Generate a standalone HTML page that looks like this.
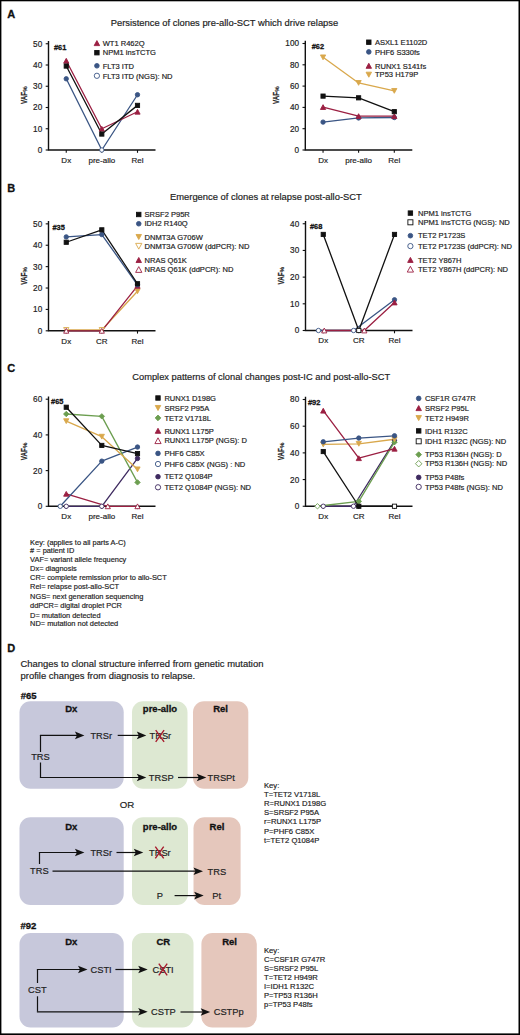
<!DOCTYPE html><html><head><meta charset="utf-8"><style>html,body{margin:0;padding:0;background:#fff;}svg{display:block;}</style></head><body>
<svg width="520" height="1035" viewBox="0 0 520 1035" font-family='"Liberation Sans", sans-serif'>
<rect x="0" y="0" width="520" height="1035" fill="#fff"/>
<text x="7.3" y="17.5" font-size="11" text-anchor="start" font-weight="bold" fill="#111" stroke="#111" stroke-width="0.3" >A</text>
<text x="7.3" y="192" font-size="11" text-anchor="start" font-weight="bold" fill="#111" stroke="#111" stroke-width="0.3" >B</text>
<text x="7.3" y="372" font-size="11" text-anchor="start" font-weight="bold" fill="#111" stroke="#111" stroke-width="0.3" >C</text>
<text x="7.3" y="652" font-size="11" text-anchor="start" font-weight="bold" fill="#111" stroke="#111" stroke-width="0.3" >D</text>
<text x="110.7" y="25.5" font-size="9.4" text-anchor="start" font-weight="normal" fill="#222" stroke="#222" stroke-width="0.18" >Persistence of clones pre-allo-SCT which drive relapse</text>
<text x="170" y="199.8" font-size="9.4" text-anchor="start" font-weight="normal" fill="#222" stroke="#222" stroke-width="0.18" >Emergence of clones at relapse post-allo-SCT</text>
<text x="132.3" y="380" font-size="9.3" text-anchor="start" font-weight="normal" fill="#222" stroke="#222" stroke-width="0.18" >Complex patterns of clonal changes post-IC and post-allo-SCT</text>
<path d="M48.5,40.95 V150 H155.5" fill="none" stroke="#111" stroke-width="1.4"/>
<line x1="45.7" y1="150" x2="48.5" y2="150" stroke="#111" stroke-width="1.1"/>
<text x="42.2" y="152.95" font-size="8.2" text-anchor="end" font-weight="normal" fill="#222" stroke="#222" stroke-width="0.18" >0</text>
<line x1="45.7" y1="128.75" x2="48.5" y2="128.75" stroke="#111" stroke-width="1.1"/>
<text x="42.2" y="131.7" font-size="8.2" text-anchor="end" font-weight="normal" fill="#222" stroke="#222" stroke-width="0.18" >10</text>
<line x1="45.7" y1="107.5" x2="48.5" y2="107.5" stroke="#111" stroke-width="1.1"/>
<text x="42.2" y="110.45" font-size="8.2" text-anchor="end" font-weight="normal" fill="#222" stroke="#222" stroke-width="0.18" >20</text>
<line x1="45.7" y1="86.25" x2="48.5" y2="86.25" stroke="#111" stroke-width="1.1"/>
<text x="42.2" y="89.2" font-size="8.2" text-anchor="end" font-weight="normal" fill="#222" stroke="#222" stroke-width="0.18" >30</text>
<line x1="45.7" y1="65" x2="48.5" y2="65" stroke="#111" stroke-width="1.1"/>
<text x="42.2" y="67.95" font-size="8.2" text-anchor="end" font-weight="normal" fill="#222" stroke="#222" stroke-width="0.18" >40</text>
<line x1="45.7" y1="43.75" x2="48.5" y2="43.75" stroke="#111" stroke-width="1.1"/>
<text x="42.2" y="46.7" font-size="8.2" text-anchor="end" font-weight="normal" fill="#222" stroke="#222" stroke-width="0.18" >50</text>
<line x1="66.25" y1="150" x2="66.25" y2="152.8" stroke="#111" stroke-width="1.1"/>
<text x="66.25" y="162.9" font-size="8" text-anchor="middle" font-weight="normal" fill="#222" stroke="#222" stroke-width="0.18" >Dx</text>
<line x1="101.8" y1="150" x2="101.8" y2="152.8" stroke="#111" stroke-width="1.1"/>
<text x="101.8" y="162.9" font-size="8" text-anchor="middle" font-weight="normal" fill="#222" stroke="#222" stroke-width="0.18" >pre-allo</text>
<line x1="137.5" y1="150" x2="137.5" y2="152.8" stroke="#111" stroke-width="1.1"/>
<text x="137.5" y="162.9" font-size="8" text-anchor="middle" font-weight="normal" fill="#222" stroke="#222" stroke-width="0.18" >Rel</text>
<text x="0" y="0" font-size="9.6" font-weight="bold" fill="#222" stroke="#222" stroke-width="0.25" transform="translate(27,104) rotate(-90)" textLength="12.1" lengthAdjust="spacingAndGlyphs">VAF</text>
<text x="12.3" y="0" font-size="6" font-weight="bold" fill="#222" stroke="#222" stroke-width="0.15" transform="translate(27,104) rotate(-90)">%</text>
<text x="54" y="49.75" font-size="7.4" text-anchor="start" font-weight="bold" fill="#111" stroke="#111" stroke-width="0.3" >#61</text>
<polyline points="66.25,78.81 101.8,150 137.5,94.75" fill="none" stroke="#3a5584" stroke-width="1.3" stroke-linejoin="round"/>
<polyline points="66.25,60.75 101.8,128.75 137.5,111.75" fill="none" stroke="#9b1f42" stroke-width="1.3" stroke-linejoin="round"/>
<polyline points="66.25,66.06 101.8,134.06 137.5,105.38" fill="none" stroke="#111" stroke-width="1.3" stroke-linejoin="round"/>
<circle cx="66.25" cy="78.81" r="2.2" fill="#3a5584" stroke="#3a5584" stroke-width="0.9"/>
<circle cx="101.8" cy="150" r="2.2" fill="#fff" stroke="#3a5584" stroke-width="0.9"/>
<circle cx="137.5" cy="94.75" r="2.2" fill="#3a5584" stroke="#3a5584" stroke-width="0.9"/>
<polygon points="66.25,58.35 68.85,63.15 63.65,63.15" fill="#9b1f42" stroke="#9b1f42" stroke-width="0.9" stroke-linejoin="miter"/>
<polygon points="101.8,126.35 104.4,131.15 99.2,131.15" fill="#9b1f42" stroke="#9b1f42" stroke-width="0.9" stroke-linejoin="miter"/>
<polygon points="137.5,109.35 140.1,114.15 134.9,114.15" fill="#9b1f42" stroke="#9b1f42" stroke-width="0.9" stroke-linejoin="miter"/>
<rect x="64.15" y="63.96" width="4.2" height="4.2" fill="#111" stroke="#111" stroke-width="0.9"/>
<rect x="99.7" y="131.96" width="4.2" height="4.2" fill="#111" stroke="#111" stroke-width="0.9"/>
<rect x="135.4" y="103.28" width="4.2" height="4.2" fill="#111" stroke="#111" stroke-width="0.9"/>
<polygon points="96.9,40.58 99.63,45.62 94.17,45.62" fill="#9b1f42" stroke="#9b1f42" stroke-width="0.9" stroke-linejoin="miter"/>
<text x="102.7" y="45.8" font-size="7.55" text-anchor="start" font-weight="normal" fill="#222" stroke="#222" stroke-width="0.18" >WT1 R462Q</text>
<rect x="94.7" y="50.5" width="4.41" height="4.41" fill="#111" stroke="#111" stroke-width="0.9"/>
<text x="102.7" y="55.4" font-size="7.55" text-anchor="start" font-weight="normal" fill="#222" stroke="#222" stroke-width="0.18" >NPM1 insTCTG</text>
<circle cx="96.9" cy="65.8" r="2.31" fill="#3a5584" stroke="#3a5584" stroke-width="0.9"/>
<text x="102.7" y="68.5" font-size="7.55" text-anchor="start" font-weight="normal" fill="#222" stroke="#222" stroke-width="0.18" >FLT3 ITD</text>
<circle cx="96.9" cy="75.8" r="2.64" fill="#fff" stroke="#3a5584" stroke-width="0.9"/>
<text x="102.7" y="78.5" font-size="7.55" text-anchor="start" font-weight="normal" fill="#222" stroke="#222" stroke-width="0.18" >FLT3 ITD (NGS): ND</text>
<path d="M305.3,40.7 V150 H412.3" fill="none" stroke="#111" stroke-width="1.4"/>
<line x1="302.5" y1="150" x2="305.3" y2="150" stroke="#111" stroke-width="1.1"/>
<text x="299" y="152.95" font-size="8.2" text-anchor="end" font-weight="normal" fill="#222" stroke="#222" stroke-width="0.18" >0</text>
<line x1="302.5" y1="128.7" x2="305.3" y2="128.7" stroke="#111" stroke-width="1.1"/>
<text x="299" y="131.65" font-size="8.2" text-anchor="end" font-weight="normal" fill="#222" stroke="#222" stroke-width="0.18" >20</text>
<line x1="302.5" y1="107.4" x2="305.3" y2="107.4" stroke="#111" stroke-width="1.1"/>
<text x="299" y="110.35" font-size="8.2" text-anchor="end" font-weight="normal" fill="#222" stroke="#222" stroke-width="0.18" >40</text>
<line x1="302.5" y1="86.1" x2="305.3" y2="86.1" stroke="#111" stroke-width="1.1"/>
<text x="299" y="89.05" font-size="8.2" text-anchor="end" font-weight="normal" fill="#222" stroke="#222" stroke-width="0.18" >60</text>
<line x1="302.5" y1="64.8" x2="305.3" y2="64.8" stroke="#111" stroke-width="1.1"/>
<text x="299" y="67.75" font-size="8.2" text-anchor="end" font-weight="normal" fill="#222" stroke="#222" stroke-width="0.18" >80</text>
<line x1="302.5" y1="43.5" x2="305.3" y2="43.5" stroke="#111" stroke-width="1.1"/>
<text x="299" y="46.45" font-size="8.2" text-anchor="end" font-weight="normal" fill="#222" stroke="#222" stroke-width="0.18" >100</text>
<line x1="323.05" y1="150" x2="323.05" y2="152.8" stroke="#111" stroke-width="1.1"/>
<text x="323.05" y="162.9" font-size="8" text-anchor="middle" font-weight="normal" fill="#222" stroke="#222" stroke-width="0.18" >Dx</text>
<line x1="358.6" y1="150" x2="358.6" y2="152.8" stroke="#111" stroke-width="1.1"/>
<text x="358.6" y="162.9" font-size="8" text-anchor="middle" font-weight="normal" fill="#222" stroke="#222" stroke-width="0.18" >pre-allo</text>
<line x1="394.3" y1="150" x2="394.3" y2="152.8" stroke="#111" stroke-width="1.1"/>
<text x="394.3" y="162.9" font-size="8" text-anchor="middle" font-weight="normal" fill="#222" stroke="#222" stroke-width="0.18" >Rel</text>
<text x="0" y="0" font-size="9.6" font-weight="bold" fill="#222" stroke="#222" stroke-width="0.25" transform="translate(279.4,104) rotate(-90)" textLength="12.1" lengthAdjust="spacingAndGlyphs">VAF</text>
<text x="12.3" y="0" font-size="6" font-weight="bold" fill="#222" stroke="#222" stroke-width="0.15" transform="translate(279.4,104) rotate(-90)">%</text>
<text x="311.7" y="49.1" font-size="7.4" text-anchor="start" font-weight="bold" fill="#111" stroke="#111" stroke-width="0.3" >#62</text>
<polyline points="323.05,57.34 358.6,82.91 394.3,90.89" fill="none" stroke="#d9a84c" stroke-width="1.3" stroke-linejoin="round"/>
<polyline points="323.05,122.1 358.6,117.94 394.3,117.52" fill="none" stroke="#3a5584" stroke-width="1.3" stroke-linejoin="round"/>
<polyline points="323.05,107.08 358.6,116.13 394.3,116.13" fill="none" stroke="#9b1f42" stroke-width="1.3" stroke-linejoin="round"/>
<polyline points="323.05,96.11 358.6,97.81 394.3,111.66" fill="none" stroke="#111" stroke-width="1.3" stroke-linejoin="round"/>
<polygon points="323.05,59.74 325.65,54.95 320.45,54.95" fill="#d9a84c" stroke="#d9a84c" stroke-width="0.9"/>
<polygon points="358.6,85.31 361.2,80.5 356,80.5" fill="#d9a84c" stroke="#d9a84c" stroke-width="0.9"/>
<polygon points="394.3,93.29 396.9,88.49 391.7,88.49" fill="#d9a84c" stroke="#d9a84c" stroke-width="0.9"/>
<circle cx="323.05" cy="122.1" r="2.2" fill="#3a5584" stroke="#3a5584" stroke-width="0.9"/>
<circle cx="358.6" cy="117.94" r="2.2" fill="#3a5584" stroke="#3a5584" stroke-width="0.9"/>
<circle cx="394.3" cy="117.52" r="2.2" fill="#3a5584" stroke="#3a5584" stroke-width="0.9"/>
<polygon points="323.05,104.68 325.65,109.48 320.45,109.48" fill="#9b1f42" stroke="#9b1f42" stroke-width="0.9" stroke-linejoin="miter"/>
<polygon points="358.6,113.73 361.2,118.53 356,118.53" fill="#9b1f42" stroke="#9b1f42" stroke-width="0.9" stroke-linejoin="miter"/>
<polygon points="394.3,113.73 396.9,118.53 391.7,118.53" fill="#9b1f42" stroke="#9b1f42" stroke-width="0.9" stroke-linejoin="miter"/>
<rect x="320.95" y="94.01" width="4.2" height="4.2" fill="#111" stroke="#111" stroke-width="0.9"/>
<rect x="356.5" y="95.72" width="4.2" height="4.2" fill="#111" stroke="#111" stroke-width="0.9"/>
<rect x="392.2" y="109.56" width="4.2" height="4.2" fill="#111" stroke="#111" stroke-width="0.9"/>
<rect x="366.6" y="40" width="4.41" height="4.41" fill="#111" stroke="#111" stroke-width="0.9"/>
<text x="375" y="44.9" font-size="7.55" text-anchor="start" font-weight="normal" fill="#222" stroke="#222" stroke-width="0.18" >ASXL1 E1102D</text>
<circle cx="368.8" cy="51.9" r="2.31" fill="#3a5584" stroke="#3a5584" stroke-width="0.9"/>
<text x="375" y="54.6" font-size="7.55" text-anchor="start" font-weight="normal" fill="#222" stroke="#222" stroke-width="0.18" >PHF6 S330fs</text>
<polygon points="368.8,63.28 371.53,68.32 366.07,68.32" fill="#9b1f42" stroke="#9b1f42" stroke-width="0.9" stroke-linejoin="miter"/>
<text x="375" y="68.5" font-size="7.55" text-anchor="start" font-weight="normal" fill="#222" stroke="#222" stroke-width="0.18" >RUNX1 S141fs</text>
<polygon points="368.8,77.22 371.53,72.18 366.07,72.18" fill="#d9a84c" stroke="#d9a84c" stroke-width="0.9"/>
<text x="375" y="77.4" font-size="7.55" text-anchor="start" font-weight="normal" fill="#222" stroke="#222" stroke-width="0.18" >TP53 H179P</text>
<path d="M48.5,221.05 V330.8 H155.5" fill="none" stroke="#111" stroke-width="1.4"/>
<line x1="45.7" y1="330.8" x2="48.5" y2="330.8" stroke="#111" stroke-width="1.1"/>
<text x="42.2" y="333.75" font-size="8.2" text-anchor="end" font-weight="normal" fill="#222" stroke="#222" stroke-width="0.18" >0</text>
<line x1="45.7" y1="309.41" x2="48.5" y2="309.41" stroke="#111" stroke-width="1.1"/>
<text x="42.2" y="312.36" font-size="8.2" text-anchor="end" font-weight="normal" fill="#222" stroke="#222" stroke-width="0.18" >10</text>
<line x1="45.7" y1="288.02" x2="48.5" y2="288.02" stroke="#111" stroke-width="1.1"/>
<text x="42.2" y="290.97" font-size="8.2" text-anchor="end" font-weight="normal" fill="#222" stroke="#222" stroke-width="0.18" >20</text>
<line x1="45.7" y1="266.63" x2="48.5" y2="266.63" stroke="#111" stroke-width="1.1"/>
<text x="42.2" y="269.58" font-size="8.2" text-anchor="end" font-weight="normal" fill="#222" stroke="#222" stroke-width="0.18" >30</text>
<line x1="45.7" y1="245.24" x2="48.5" y2="245.24" stroke="#111" stroke-width="1.1"/>
<text x="42.2" y="248.19" font-size="8.2" text-anchor="end" font-weight="normal" fill="#222" stroke="#222" stroke-width="0.18" >40</text>
<line x1="45.7" y1="223.85" x2="48.5" y2="223.85" stroke="#111" stroke-width="1.1"/>
<text x="42.2" y="226.8" font-size="8.2" text-anchor="end" font-weight="normal" fill="#222" stroke="#222" stroke-width="0.18" >50</text>
<line x1="66.25" y1="330.8" x2="66.25" y2="333.6" stroke="#111" stroke-width="1.1"/>
<text x="66.25" y="343.7" font-size="8" text-anchor="middle" font-weight="normal" fill="#222" stroke="#222" stroke-width="0.18" >Dx</text>
<line x1="101.8" y1="330.8" x2="101.8" y2="333.6" stroke="#111" stroke-width="1.1"/>
<text x="101.8" y="343.7" font-size="8" text-anchor="middle" font-weight="normal" fill="#222" stroke="#222" stroke-width="0.18" >CR</text>
<line x1="137.5" y1="330.8" x2="137.5" y2="333.6" stroke="#111" stroke-width="1.1"/>
<text x="137.5" y="343.7" font-size="8" text-anchor="middle" font-weight="normal" fill="#222" stroke="#222" stroke-width="0.18" >Rel</text>
<text x="0" y="0" font-size="9.6" font-weight="bold" fill="#222" stroke="#222" stroke-width="0.25" transform="translate(26.8,284.8) rotate(-90)" textLength="12.1" lengthAdjust="spacingAndGlyphs">VAF</text>
<text x="12.3" y="0" font-size="6" font-weight="bold" fill="#222" stroke="#222" stroke-width="0.15" transform="translate(26.8,284.8) rotate(-90)">%</text>
<text x="52.5" y="230" font-size="7.4" text-anchor="start" font-weight="bold" fill="#111" stroke="#111" stroke-width="0.3" >#35</text>
<polyline points="66.25,329.94 101.8,329.94 137.5,291.23" fill="none" stroke="#d9a84c" stroke-width="1.3" stroke-linejoin="round"/>
<polyline points="66.25,330.8 101.8,330.8 137.5,285.88" fill="none" stroke="#9b1f42" stroke-width="1.3" stroke-linejoin="round"/>
<polyline points="66.25,236.9 101.8,234.55 137.5,284.81" fill="none" stroke="#3a5584" stroke-width="1.3" stroke-linejoin="round"/>
<polyline points="66.25,242.25 101.8,229.84 137.5,283.74" fill="none" stroke="#111" stroke-width="1.3" stroke-linejoin="round"/>
<polygon points="66.25,332.34 68.85,327.54 63.65,327.54" fill="#fff" stroke="#d9a84c" stroke-width="0.9"/>
<polygon points="101.8,332.34 104.4,327.54 99.2,327.54" fill="#fff" stroke="#d9a84c" stroke-width="0.9"/>
<polygon points="137.5,293.63 140.1,288.83 134.9,288.83" fill="#d9a84c" stroke="#d9a84c" stroke-width="0.9"/>
<polygon points="66.25,328.4 68.85,333.2 63.65,333.2" fill="#fff" stroke="#9b1f42" stroke-width="0.9" stroke-linejoin="miter"/>
<polygon points="101.8,328.4 104.4,333.2 99.2,333.2" fill="#fff" stroke="#9b1f42" stroke-width="0.9" stroke-linejoin="miter"/>
<polygon points="137.5,283.48 140.1,288.28 134.9,288.28" fill="#9b1f42" stroke="#9b1f42" stroke-width="0.9" stroke-linejoin="miter"/>
<circle cx="66.25" cy="236.9" r="2.2" fill="#3a5584" stroke="#3a5584" stroke-width="0.9"/>
<circle cx="101.8" cy="234.55" r="2.2" fill="#3a5584" stroke="#3a5584" stroke-width="0.9"/>
<circle cx="137.5" cy="284.81" r="2.2" fill="#3a5584" stroke="#3a5584" stroke-width="0.9"/>
<rect x="64.15" y="240.15" width="4.2" height="4.2" fill="#111" stroke="#111" stroke-width="0.9"/>
<rect x="99.7" y="227.74" width="4.2" height="4.2" fill="#111" stroke="#111" stroke-width="0.9"/>
<rect x="135.4" y="281.64" width="4.2" height="4.2" fill="#111" stroke="#111" stroke-width="0.9"/>
<rect x="136.54" y="212.29" width="4.41" height="4.41" fill="#111" stroke="#111" stroke-width="0.9"/>
<text x="144.5" y="217.2" font-size="7.55" text-anchor="start" font-weight="normal" fill="#222" stroke="#222" stroke-width="0.18" >SRSF2 P95R</text>
<circle cx="138.75" cy="223.75" r="2.31" fill="#3a5584" stroke="#3a5584" stroke-width="0.9"/>
<text x="144.5" y="226.45" font-size="7.55" text-anchor="start" font-weight="normal" fill="#222" stroke="#222" stroke-width="0.18" >IDH2 R140Q</text>
<polygon points="138.75,239.52 141.48,234.48 136.02,234.48" fill="#d9a84c" stroke="#d9a84c" stroke-width="0.9"/>
<text x="144.5" y="239.7" font-size="7.55" text-anchor="start" font-weight="normal" fill="#222" stroke="#222" stroke-width="0.18" >DNMT3A G706W</text>
<polygon points="138.75,249.13 141.87,243.37 135.63,243.37" fill="#fff" stroke="#d9a84c" stroke-width="0.9"/>
<text x="144.5" y="248.95" font-size="7.55" text-anchor="start" font-weight="normal" fill="#222" stroke="#222" stroke-width="0.18" >DNMT3A G706W (ddPCR): ND</text>
<polygon points="138.75,257.48 141.48,262.52 136.02,262.52" fill="#9b1f42" stroke="#9b1f42" stroke-width="0.9" stroke-linejoin="miter"/>
<text x="144.5" y="262.7" font-size="7.55" text-anchor="start" font-weight="normal" fill="#222" stroke="#222" stroke-width="0.18" >NRAS Q61K</text>
<polygon points="138.75,266.62 141.87,272.38 135.63,272.38" fill="#fff" stroke="#9b1f42" stroke-width="0.9" stroke-linejoin="miter"/>
<text x="144.5" y="272.2" font-size="7.55" text-anchor="start" font-weight="normal" fill="#222" stroke="#222" stroke-width="0.18" >NRAS Q61K (ddPCR): ND</text>
<path d="M305.5,220.95 V330.5 H412.5" fill="none" stroke="#111" stroke-width="1.4"/>
<line x1="302.7" y1="330.5" x2="305.5" y2="330.5" stroke="#111" stroke-width="1.1"/>
<text x="299.2" y="333.45" font-size="8.2" text-anchor="end" font-weight="normal" fill="#222" stroke="#222" stroke-width="0.18" >0</text>
<line x1="302.7" y1="303.81" x2="305.5" y2="303.81" stroke="#111" stroke-width="1.1"/>
<text x="299.2" y="306.76" font-size="8.2" text-anchor="end" font-weight="normal" fill="#222" stroke="#222" stroke-width="0.18" >10</text>
<line x1="302.7" y1="277.12" x2="305.5" y2="277.12" stroke="#111" stroke-width="1.1"/>
<text x="299.2" y="280.07" font-size="8.2" text-anchor="end" font-weight="normal" fill="#222" stroke="#222" stroke-width="0.18" >20</text>
<line x1="302.7" y1="250.44" x2="305.5" y2="250.44" stroke="#111" stroke-width="1.1"/>
<text x="299.2" y="253.39" font-size="8.2" text-anchor="end" font-weight="normal" fill="#222" stroke="#222" stroke-width="0.18" >30</text>
<line x1="302.7" y1="223.75" x2="305.5" y2="223.75" stroke="#111" stroke-width="1.1"/>
<text x="299.2" y="226.7" font-size="8.2" text-anchor="end" font-weight="normal" fill="#222" stroke="#222" stroke-width="0.18" >40</text>
<line x1="323.25" y1="330.5" x2="323.25" y2="333.3" stroke="#111" stroke-width="1.1"/>
<text x="323.25" y="343.4" font-size="8" text-anchor="middle" font-weight="normal" fill="#222" stroke="#222" stroke-width="0.18" >Dx</text>
<line x1="358.8" y1="330.5" x2="358.8" y2="333.3" stroke="#111" stroke-width="1.1"/>
<text x="358.8" y="343.4" font-size="8" text-anchor="middle" font-weight="normal" fill="#222" stroke="#222" stroke-width="0.18" >CR</text>
<line x1="394.5" y1="330.5" x2="394.5" y2="333.3" stroke="#111" stroke-width="1.1"/>
<text x="394.5" y="343.4" font-size="8" text-anchor="middle" font-weight="normal" fill="#222" stroke="#222" stroke-width="0.18" >Rel</text>
<text x="0" y="0" font-size="9.6" font-weight="bold" fill="#222" stroke="#222" stroke-width="0.25" transform="translate(284.2,284.5) rotate(-90)" textLength="12.1" lengthAdjust="spacingAndGlyphs">VAF</text>
<text x="12.3" y="0" font-size="6" font-weight="bold" fill="#222" stroke="#222" stroke-width="0.15" transform="translate(284.2,284.5) rotate(-90)">%</text>
<text x="310" y="229" font-size="7.4" text-anchor="start" font-weight="bold" fill="#111" stroke="#111" stroke-width="0.3" >#68</text>
<polyline points="318.45,330.5 353.6,330.5 394.5,299.81" fill="none" stroke="#3a5584" stroke-width="1.3" stroke-linejoin="round"/>
<polyline points="324.25,330.5 364.3,330.5 394.5,302.48" fill="none" stroke="#9b1f42" stroke-width="1.3" stroke-linejoin="round"/>
<polyline points="323.25,234.43 358.8,330.5 394.5,234.43" fill="none" stroke="#111" stroke-width="1.3" stroke-linejoin="round"/>
<circle cx="318.45" cy="330.5" r="2.2" fill="#fff" stroke="#3a5584" stroke-width="0.9"/>
<circle cx="353.6" cy="330.5" r="2.2" fill="#fff" stroke="#3a5584" stroke-width="0.9"/>
<circle cx="394.5" cy="299.81" r="2.2" fill="#3a5584" stroke="#3a5584" stroke-width="0.9"/>
<polygon points="324.25,328.1 326.85,332.9 321.65,332.9" fill="#fff" stroke="#9b1f42" stroke-width="0.9" stroke-linejoin="miter"/>
<polygon points="364.3,328.1 366.9,332.9 361.7,332.9" fill="#fff" stroke="#9b1f42" stroke-width="0.9" stroke-linejoin="miter"/>
<polygon points="394.5,300.08 397.1,304.88 391.9,304.88" fill="#9b1f42" stroke="#9b1f42" stroke-width="0.9" stroke-linejoin="miter"/>
<rect x="321.15" y="232.33" width="4.2" height="4.2" fill="#111" stroke="#111" stroke-width="0.9"/>
<rect x="356.7" y="328.4" width="4.2" height="4.2" fill="#fff" stroke="#111" stroke-width="0.9"/>
<rect x="392.4" y="232.33" width="4.2" height="4.2" fill="#111" stroke="#111" stroke-width="0.9"/>
<rect x="408.19" y="210.89" width="4.41" height="4.41" fill="#111" stroke="#111" stroke-width="0.9"/>
<text x="418" y="215.8" font-size="7.55" text-anchor="start" font-weight="normal" fill="#222" stroke="#222" stroke-width="0.18" >NPM1 insTCTG</text>
<rect x="407.88" y="219.78" width="5.04" height="5.04" fill="#fff" stroke="#111" stroke-width="0.9"/>
<text x="418" y="225" font-size="7.55" text-anchor="start" font-weight="normal" fill="#222" stroke="#222" stroke-width="0.18" >NPM1 insTCTG (NGS): ND</text>
<circle cx="410.4" cy="235.7" r="2.31" fill="#3a5584" stroke="#3a5584" stroke-width="0.9"/>
<text x="418" y="238.4" font-size="7.55" text-anchor="start" font-weight="normal" fill="#222" stroke="#222" stroke-width="0.18" >TET2 P1723S</text>
<circle cx="410.4" cy="246.1" r="2.64" fill="#fff" stroke="#3a5584" stroke-width="0.9"/>
<text x="418" y="248.8" font-size="7.55" text-anchor="start" font-weight="normal" fill="#222" stroke="#222" stroke-width="0.18" >TET2 P1723S (ddPCR): ND</text>
<polygon points="410.4,257.38 413.13,262.42 407.67,262.42" fill="#9b1f42" stroke="#9b1f42" stroke-width="0.9" stroke-linejoin="miter"/>
<text x="418" y="262.6" font-size="7.55" text-anchor="start" font-weight="normal" fill="#222" stroke="#222" stroke-width="0.18" >TET2 Y867H</text>
<polygon points="410.4,266.32 413.52,272.08 407.28,272.08" fill="#fff" stroke="#9b1f42" stroke-width="0.9" stroke-linejoin="miter"/>
<text x="418" y="271.9" font-size="7.55" text-anchor="start" font-weight="normal" fill="#222" stroke="#222" stroke-width="0.18" >TET2 Y867H (ddPCR): ND</text>
<path d="M48.5,396.4 V506.3 H155.5" fill="none" stroke="#111" stroke-width="1.4"/>
<line x1="45.7" y1="506.3" x2="48.5" y2="506.3" stroke="#111" stroke-width="1.1"/>
<text x="42.2" y="509.25" font-size="8.2" text-anchor="end" font-weight="normal" fill="#222" stroke="#222" stroke-width="0.18" >0</text>
<line x1="45.7" y1="470.6" x2="48.5" y2="470.6" stroke="#111" stroke-width="1.1"/>
<text x="42.2" y="473.55" font-size="8.2" text-anchor="end" font-weight="normal" fill="#222" stroke="#222" stroke-width="0.18" >20</text>
<line x1="45.7" y1="434.9" x2="48.5" y2="434.9" stroke="#111" stroke-width="1.1"/>
<text x="42.2" y="437.85" font-size="8.2" text-anchor="end" font-weight="normal" fill="#222" stroke="#222" stroke-width="0.18" >40</text>
<line x1="45.7" y1="399.2" x2="48.5" y2="399.2" stroke="#111" stroke-width="1.1"/>
<text x="42.2" y="402.15" font-size="8.2" text-anchor="end" font-weight="normal" fill="#222" stroke="#222" stroke-width="0.18" >60</text>
<line x1="66.25" y1="506.3" x2="66.25" y2="509.1" stroke="#111" stroke-width="1.1"/>
<text x="66.25" y="519.2" font-size="8" text-anchor="middle" font-weight="normal" fill="#222" stroke="#222" stroke-width="0.18" >Dx</text>
<line x1="101.8" y1="506.3" x2="101.8" y2="509.1" stroke="#111" stroke-width="1.1"/>
<text x="101.8" y="519.2" font-size="8" text-anchor="middle" font-weight="normal" fill="#222" stroke="#222" stroke-width="0.18" >pre-allo</text>
<line x1="137.5" y1="506.3" x2="137.5" y2="509.1" stroke="#111" stroke-width="1.1"/>
<text x="137.5" y="519.2" font-size="8" text-anchor="middle" font-weight="normal" fill="#222" stroke="#222" stroke-width="0.18" >Rel</text>
<text x="0" y="0" font-size="9.6" font-weight="bold" fill="#222" stroke="#222" stroke-width="0.25" transform="translate(27,460.3) rotate(-90)" textLength="12.1" lengthAdjust="spacingAndGlyphs">VAF</text>
<text x="12.3" y="0" font-size="6" font-weight="bold" fill="#222" stroke="#222" stroke-width="0.15" transform="translate(27,460.3) rotate(-90)">%</text>
<text x="51.1" y="404.2" font-size="7.4" text-anchor="start" font-weight="bold" fill="#111" stroke="#111" stroke-width="0.3" >#65</text>
<polyline points="66.25,493.81 107.8,506.3 137.5,506.3" fill="none" stroke="#9b1f42" stroke-width="1.3" stroke-linejoin="round"/>
<polyline points="66.25,506.3 101.8,506.3 137.5,458.46" fill="none" stroke="#3e2a60" stroke-width="1.3" stroke-linejoin="round"/>
<polyline points="60.25,506.3 101.8,461.14 137.5,447.04" fill="none" stroke="#3a5584" stroke-width="1.3" stroke-linejoin="round"/>
<polyline points="66.25,414.02 101.8,416.34 137.5,482.38" fill="none" stroke="#6c9e50" stroke-width="1.3" stroke-linejoin="round"/>
<polyline points="66.25,421.16 101.8,436.69 137.5,469.35" fill="none" stroke="#d9a84c" stroke-width="1.3" stroke-linejoin="round"/>
<polyline points="66.25,407.23 101.8,445.43 137.5,453.64" fill="none" stroke="#111" stroke-width="1.3" stroke-linejoin="round"/>
<polygon points="66.25,491.41 68.85,496.2 63.65,496.2" fill="#9b1f42" stroke="#9b1f42" stroke-width="0.9" stroke-linejoin="miter"/>
<polygon points="107.8,503.9 110.4,508.7 105.2,508.7" fill="#fff" stroke="#9b1f42" stroke-width="0.9" stroke-linejoin="miter"/>
<polygon points="137.5,503.9 140.1,508.7 134.9,508.7" fill="#fff" stroke="#9b1f42" stroke-width="0.9" stroke-linejoin="miter"/>
<circle cx="66.25" cy="506.3" r="2.2" fill="#fff" stroke="#3e2a60" stroke-width="0.9"/>
<circle cx="101.8" cy="506.3" r="2.2" fill="#fff" stroke="#3e2a60" stroke-width="0.9"/>
<circle cx="137.5" cy="458.46" r="2.2" fill="#3e2a60" stroke="#3e2a60" stroke-width="0.9"/>
<circle cx="60.25" cy="506.3" r="2.2" fill="#fff" stroke="#3a5584" stroke-width="0.9"/>
<circle cx="101.8" cy="461.14" r="2.2" fill="#3a5584" stroke="#3a5584" stroke-width="0.9"/>
<circle cx="137.5" cy="447.04" r="2.2" fill="#3a5584" stroke="#3a5584" stroke-width="0.9"/>
<polygon points="66.25,411.32 68.95,414.02 66.25,416.72 63.55,414.02" fill="#6c9e50" stroke="#6c9e50" stroke-width="0.9"/>
<polygon points="101.8,413.64 104.5,416.34 101.8,419.04 99.1,416.34" fill="#6c9e50" stroke="#6c9e50" stroke-width="0.9"/>
<polygon points="137.5,479.68 140.2,482.38 137.5,485.08 134.8,482.38" fill="#6c9e50" stroke="#6c9e50" stroke-width="0.9"/>
<polygon points="66.25,423.56 68.85,418.76 63.65,418.76" fill="#d9a84c" stroke="#d9a84c" stroke-width="0.9"/>
<polygon points="101.8,439.08 104.4,434.29 99.2,434.29" fill="#d9a84c" stroke="#d9a84c" stroke-width="0.9"/>
<polygon points="137.5,471.75 140.1,466.95 134.9,466.95" fill="#d9a84c" stroke="#d9a84c" stroke-width="0.9"/>
<rect x="64.15" y="405.13" width="4.2" height="4.2" fill="#111" stroke="#111" stroke-width="0.9"/>
<rect x="99.7" y="443.33" width="4.2" height="4.2" fill="#111" stroke="#111" stroke-width="0.9"/>
<rect x="135.4" y="451.54" width="4.2" height="4.2" fill="#111" stroke="#111" stroke-width="0.9"/>
<rect x="155.79" y="395.8" width="4.41" height="4.41" fill="#111" stroke="#111" stroke-width="0.9"/>
<text x="164.4" y="400.7" font-size="7.55" text-anchor="start" font-weight="normal" fill="#222" stroke="#222" stroke-width="0.18" >RUNX1 D198G</text>
<polygon points="158,410.52 160.73,405.48 155.27,405.48" fill="#d9a84c" stroke="#d9a84c" stroke-width="0.9"/>
<text x="164.4" y="410.7" font-size="7.55" text-anchor="start" font-weight="normal" fill="#222" stroke="#222" stroke-width="0.18" >SRSF2 P95A</text>
<polygon points="158,415.06 160.84,417.9 158,420.73 155.16,417.9" fill="#6c9e50" stroke="#6c9e50" stroke-width="0.9"/>
<text x="164.4" y="420.6" font-size="7.55" text-anchor="start" font-weight="normal" fill="#222" stroke="#222" stroke-width="0.18" >TET2 V1718L</text>
<polygon points="158,428.28 160.73,433.32 155.27,433.32" fill="#9b1f42" stroke="#9b1f42" stroke-width="0.9" stroke-linejoin="miter"/>
<text x="164.4" y="433.5" font-size="7.55" text-anchor="start" font-weight="normal" fill="#222" stroke="#222" stroke-width="0.18" >RUNX1 L175P</text>
<polygon points="158,437.82 161.12,443.58 154.88,443.58" fill="#fff" stroke="#9b1f42" stroke-width="0.9" stroke-linejoin="miter"/>
<text x="164.4" y="443.4" font-size="7.55" text-anchor="start" font-weight="normal" fill="#222" stroke="#222" stroke-width="0.18" >RUNX1 L175P (NGS): D</text>
<circle cx="158" cy="453.4" r="2.31" fill="#3a5584" stroke="#3a5584" stroke-width="0.9"/>
<text x="164.4" y="456.1" font-size="7.55" text-anchor="start" font-weight="normal" fill="#222" stroke="#222" stroke-width="0.18" >PHF6 C85X</text>
<circle cx="158" cy="464" r="2.64" fill="#fff" stroke="#3a5584" stroke-width="0.9"/>
<text x="164.4" y="466.7" font-size="7.55" text-anchor="start" font-weight="normal" fill="#222" stroke="#222" stroke-width="0.18" >PHF6 C85X (NGS) : ND</text>
<circle cx="158" cy="476.7" r="2.31" fill="#3e2a60" stroke="#3e2a60" stroke-width="0.9"/>
<text x="164.4" y="479.4" font-size="7.55" text-anchor="start" font-weight="normal" fill="#222" stroke="#222" stroke-width="0.18" >TET2 Q1084P</text>
<circle cx="158" cy="487.3" r="2.64" fill="#fff" stroke="#3e2a60" stroke-width="0.9"/>
<text x="164.4" y="490" font-size="7.55" text-anchor="start" font-weight="normal" fill="#222" stroke="#222" stroke-width="0.18" >TET2 Q1084P (NGS): ND</text>
<path d="M305.5,396.7 V506.25 H412.5" fill="none" stroke="#111" stroke-width="1.4"/>
<line x1="302.7" y1="506.25" x2="305.5" y2="506.25" stroke="#111" stroke-width="1.1"/>
<text x="299.2" y="509.2" font-size="8.2" text-anchor="end" font-weight="normal" fill="#222" stroke="#222" stroke-width="0.18" >0</text>
<line x1="302.7" y1="479.56" x2="305.5" y2="479.56" stroke="#111" stroke-width="1.1"/>
<text x="299.2" y="482.51" font-size="8.2" text-anchor="end" font-weight="normal" fill="#222" stroke="#222" stroke-width="0.18" >20</text>
<line x1="302.7" y1="452.88" x2="305.5" y2="452.88" stroke="#111" stroke-width="1.1"/>
<text x="299.2" y="455.82" font-size="8.2" text-anchor="end" font-weight="normal" fill="#222" stroke="#222" stroke-width="0.18" >40</text>
<line x1="302.7" y1="426.19" x2="305.5" y2="426.19" stroke="#111" stroke-width="1.1"/>
<text x="299.2" y="429.14" font-size="8.2" text-anchor="end" font-weight="normal" fill="#222" stroke="#222" stroke-width="0.18" >60</text>
<line x1="302.7" y1="399.5" x2="305.5" y2="399.5" stroke="#111" stroke-width="1.1"/>
<text x="299.2" y="402.45" font-size="8.2" text-anchor="end" font-weight="normal" fill="#222" stroke="#222" stroke-width="0.18" >80</text>
<line x1="323.25" y1="506.25" x2="323.25" y2="509.05" stroke="#111" stroke-width="1.1"/>
<text x="323.25" y="519.15" font-size="8" text-anchor="middle" font-weight="normal" fill="#222" stroke="#222" stroke-width="0.18" >Dx</text>
<line x1="358.8" y1="506.25" x2="358.8" y2="509.05" stroke="#111" stroke-width="1.1"/>
<text x="358.8" y="519.15" font-size="8" text-anchor="middle" font-weight="normal" fill="#222" stroke="#222" stroke-width="0.18" >CR</text>
<line x1="394.5" y1="506.25" x2="394.5" y2="509.05" stroke="#111" stroke-width="1.1"/>
<text x="394.5" y="519.15" font-size="8" text-anchor="middle" font-weight="normal" fill="#222" stroke="#222" stroke-width="0.18" >Rel</text>
<text x="0" y="0" font-size="9.6" font-weight="bold" fill="#222" stroke="#222" stroke-width="0.25" transform="translate(284.4,460.25) rotate(-90)" textLength="12.1" lengthAdjust="spacingAndGlyphs">VAF</text>
<text x="12.3" y="0" font-size="6" font-weight="bold" fill="#222" stroke="#222" stroke-width="0.15" transform="translate(284.4,460.25) rotate(-90)">%</text>
<text x="308" y="405" font-size="7.4" text-anchor="start" font-weight="bold" fill="#111" stroke="#111" stroke-width="0.3" >#92</text>
<polyline points="323.25,506.25 353.5,506.25 394.5,440.87" fill="none" stroke="#3e2a60" stroke-width="1.3" stroke-linejoin="round"/>
<polyline points="317.45,506.25 358.8,501.31 394.5,442.2" fill="none" stroke="#6c9e50" stroke-width="1.3" stroke-linejoin="round"/>
<polyline points="323.25,451.54 358.8,506.25 394.5,506.25" fill="none" stroke="#111" stroke-width="1.3" stroke-linejoin="round"/>
<polyline points="323.25,444.47 358.8,443.8 394.5,439.26" fill="none" stroke="#d9a84c" stroke-width="1.3" stroke-linejoin="round"/>
<polyline points="323.25,410.71 358.8,458.21 394.5,448.74" fill="none" stroke="#9b1f42" stroke-width="1.3" stroke-linejoin="round"/>
<polyline points="323.25,441.8 358.8,438.06 394.5,435.8" fill="none" stroke="#3a5584" stroke-width="1.3" stroke-linejoin="round"/>
<circle cx="323.25" cy="506.25" r="2.2" fill="#fff" stroke="#3e2a60" stroke-width="0.9"/>
<circle cx="353.5" cy="506.25" r="2.2" fill="#fff" stroke="#3e2a60" stroke-width="0.9"/>
<circle cx="394.5" cy="440.87" r="2.2" fill="#3e2a60" stroke="#3e2a60" stroke-width="0.9"/>
<polygon points="317.45,503.55 320.15,506.25 317.45,508.95 314.75,506.25" fill="#fff" stroke="#6c9e50" stroke-width="0.9"/>
<polygon points="358.8,498.61 361.5,501.31 358.8,504.01 356.1,501.31" fill="#6c9e50" stroke="#6c9e50" stroke-width="0.9"/>
<polygon points="394.5,439.5 397.2,442.2 394.5,444.9 391.8,442.2" fill="#6c9e50" stroke="#6c9e50" stroke-width="0.9"/>
<rect x="321.15" y="449.44" width="4.2" height="4.2" fill="#111" stroke="#111" stroke-width="0.9"/>
<rect x="356.7" y="504.15" width="4.2" height="4.2" fill="#111" stroke="#111" stroke-width="0.9"/>
<rect x="392.4" y="504.15" width="4.2" height="4.2" fill="#fff" stroke="#111" stroke-width="0.9"/>
<polygon points="323.25,446.87 325.85,442.07 320.65,442.07" fill="#d9a84c" stroke="#d9a84c" stroke-width="0.9"/>
<polygon points="358.8,446.2 361.4,441.4 356.2,441.4" fill="#d9a84c" stroke="#d9a84c" stroke-width="0.9"/>
<polygon points="394.5,441.66 397.1,436.86 391.9,436.86" fill="#d9a84c" stroke="#d9a84c" stroke-width="0.9"/>
<polygon points="323.25,408.31 325.85,413.11 320.65,413.11" fill="#9b1f42" stroke="#9b1f42" stroke-width="0.9" stroke-linejoin="miter"/>
<polygon points="358.8,455.81 361.4,460.61 356.2,460.61" fill="#9b1f42" stroke="#9b1f42" stroke-width="0.9" stroke-linejoin="miter"/>
<polygon points="394.5,446.34 397.1,451.14 391.9,451.14" fill="#9b1f42" stroke="#9b1f42" stroke-width="0.9" stroke-linejoin="miter"/>
<circle cx="323.25" cy="441.8" r="2.2" fill="#3a5584" stroke="#3a5584" stroke-width="0.9"/>
<circle cx="358.8" cy="438.06" r="2.2" fill="#3a5584" stroke="#3a5584" stroke-width="0.9"/>
<circle cx="394.5" cy="435.8" r="2.2" fill="#3a5584" stroke="#3a5584" stroke-width="0.9"/>
<circle cx="418.7" cy="398.4" r="2.31" fill="#3a5584" stroke="#3a5584" stroke-width="0.9"/>
<text x="424.9" y="401.1" font-size="7.55" text-anchor="start" font-weight="normal" fill="#222" stroke="#222" stroke-width="0.18" >CSF1R G747R</text>
<polygon points="418.7,405.58 421.43,410.62 415.97,410.62" fill="#9b1f42" stroke="#9b1f42" stroke-width="0.9" stroke-linejoin="miter"/>
<text x="424.9" y="410.8" font-size="7.55" text-anchor="start" font-weight="normal" fill="#222" stroke="#222" stroke-width="0.18" >SRSF2 P95L</text>
<polygon points="418.7,420.62 421.43,415.58 415.97,415.58" fill="#d9a84c" stroke="#d9a84c" stroke-width="0.9"/>
<text x="424.9" y="420.8" font-size="7.55" text-anchor="start" font-weight="normal" fill="#222" stroke="#222" stroke-width="0.18" >TET2 H949R</text>
<rect x="416.5" y="428.69" width="4.41" height="4.41" fill="#111" stroke="#111" stroke-width="0.9"/>
<text x="424.9" y="433.6" font-size="7.55" text-anchor="start" font-weight="normal" fill="#222" stroke="#222" stroke-width="0.18" >IDH1 R132C</text>
<rect x="416.18" y="438.78" width="5.04" height="5.04" fill="#fff" stroke="#111" stroke-width="0.9"/>
<text x="424.9" y="444" font-size="7.55" text-anchor="start" font-weight="normal" fill="#222" stroke="#222" stroke-width="0.18" >IDH1 R132C (NGS): ND</text>
<polygon points="418.7,451.77 421.53,454.6 418.7,457.44 415.87,454.6" fill="#6c9e50" stroke="#6c9e50" stroke-width="0.9"/>
<text x="424.9" y="457.3" font-size="7.55" text-anchor="start" font-weight="normal" fill="#222" stroke="#222" stroke-width="0.18" >TP53 R136H (NGS): D</text>
<polygon points="418.7,460.46 421.94,463.7 418.7,466.94 415.46,463.7" fill="#fff" stroke="#6c9e50" stroke-width="0.9"/>
<text x="424.9" y="466.4" font-size="7.55" text-anchor="start" font-weight="normal" fill="#222" stroke="#222" stroke-width="0.18" >TP53 R136H (NGS): ND</text>
<circle cx="418.7" cy="477.4" r="2.31" fill="#3e2a60" stroke="#3e2a60" stroke-width="0.9"/>
<text x="424.9" y="480.1" font-size="7.55" text-anchor="start" font-weight="normal" fill="#222" stroke="#222" stroke-width="0.18" >TP53 P48fs</text>
<circle cx="418.7" cy="486.9" r="2.64" fill="#fff" stroke="#3e2a60" stroke-width="0.9"/>
<text x="424.9" y="489.6" font-size="7.55" text-anchor="start" font-weight="normal" fill="#222" stroke="#222" stroke-width="0.18" >TP53 P48fs (NGS): ND</text>
<text x="30.1" y="544.7" font-size="7.4" text-anchor="start" font-weight="normal" fill="#222" stroke="#222" stroke-width="0.18" >Key: (applies to all parts A-C)</text>
<text x="30.1" y="553.4" font-size="7.4" text-anchor="start" font-weight="normal" fill="#222" stroke="#222" stroke-width="0.18" ># = patient ID</text>
<text x="30.1" y="562" font-size="7.4" text-anchor="start" font-weight="normal" fill="#222" stroke="#222" stroke-width="0.18" >VAF= variant allele frequency</text>
<text x="30.1" y="570.6" font-size="7.4" text-anchor="start" font-weight="normal" fill="#222" stroke="#222" stroke-width="0.18" >Dx= diagnosis</text>
<text x="30.1" y="580.2" font-size="7.4" text-anchor="start" font-weight="normal" fill="#222" stroke="#222" stroke-width="0.18" >CR= complete remission prior to allo-SCT</text>
<text x="30.1" y="588.8" font-size="7.4" text-anchor="start" font-weight="normal" fill="#222" stroke="#222" stroke-width="0.18" >Rel= relapse post-allo-SCT</text>
<text x="30.1" y="598.9" font-size="7.4" text-anchor="start" font-weight="normal" fill="#222" stroke="#222" stroke-width="0.18" >NGS= next generation sequencing</text>
<text x="30.1" y="608.1" font-size="7.4" text-anchor="start" font-weight="normal" fill="#222" stroke="#222" stroke-width="0.18" >ddPCR= digital droplet PCR</text>
<text x="30.1" y="617.6" font-size="7.4" text-anchor="start" font-weight="normal" fill="#222" stroke="#222" stroke-width="0.18" >D= mutation detected</text>
<text x="30.1" y="626.3" font-size="7.4" text-anchor="start" font-weight="normal" fill="#222" stroke="#222" stroke-width="0.18" >ND= mutation not detected</text>
<text x="20.5" y="666.8" font-size="9.45" text-anchor="start" font-weight="normal" fill="#222" stroke="#222" stroke-width="0.18" >Changes to clonal structure inferred from genetic mutation</text>
<text x="20.5" y="678.8" font-size="9.45" text-anchor="start" font-weight="normal" fill="#222" stroke="#222" stroke-width="0.18" >profile changes from diagnosis to relapse.</text>
<text x="20.8" y="698.6" font-size="9.5" text-anchor="start" font-weight="bold" fill="#111" stroke="#111" stroke-width="0.3" >#65</text>
<rect x="19.5" y="701.3" width="104.2" height="87.5" rx="11" ry="11" fill="#c7c8db"/>
<rect x="132" y="701.3" width="55.5" height="87.5" rx="11" ry="11" fill="#dde8d2"/>
<rect x="193" y="701.3" width="55.3" height="87.5" rx="11" ry="11" fill="#e5c7bc"/>
<text x="71.3" y="712.2" font-size="9.5" text-anchor="middle" font-weight="bold" fill="#111" stroke="#111" stroke-width="0.3" >Dx</text>
<text x="160" y="712.2" font-size="9.5" text-anchor="middle" font-weight="bold" fill="#111" stroke="#111" stroke-width="0.3" >pre-allo</text>
<text x="220.6" y="712.2" font-size="9.5" text-anchor="middle" font-weight="bold" fill="#111" stroke="#111" stroke-width="0.3" >Rel</text>
<line x1="40.5" y1="735.4" x2="40.5" y2="752" stroke="#111" stroke-width="1.2"/>
<line x1="40.5" y1="762.5" x2="40.5" y2="777.5" stroke="#111" stroke-width="1.2"/>
<line x1="39.9" y1="735.4" x2="77.4" y2="735.4" stroke="#111" stroke-width="1.2"/>
<path d="M84.4,735.4 L74.9,731.6 L76.9,735.4 L74.9,739.2 Z" fill="#111"/>
<text x="90.4" y="738.7" font-size="9.3" text-anchor="start" font-weight="normal" fill="#222" stroke="#222" stroke-width="0.18" >TRSr</text>
<text x="31.2" y="760.3" font-size="9.3" text-anchor="start" font-weight="normal" fill="#222" stroke="#222" stroke-width="0.18" >TRS</text>
<line x1="117.7" y1="735.4" x2="139.3" y2="735.4" stroke="#111" stroke-width="1.2"/>
<path d="M146.3,735.4 L136.8,731.6 L138.8,735.4 L136.8,739.2 Z" fill="#111"/>
<text x="149.5" y="738.7" font-size="9.3" text-anchor="start" font-weight="normal" fill="#222" stroke="#222" stroke-width="0.18" >TRSr</text>
<path d="M155.7,730.2 L164.1,741.8 M164.1,730.2 L155.7,741.8" stroke="#a81c2e" stroke-width="1.4" fill="none"/>
<line x1="39.9" y1="777.5" x2="139.3" y2="777.5" stroke="#111" stroke-width="1.2"/>
<path d="M146.3,777.5 L136.8,773.7 L138.8,777.5 L136.8,781.3 Z" fill="#111"/>
<text x="148.8" y="780.8" font-size="9.3" text-anchor="start" font-weight="normal" fill="#222" stroke="#222" stroke-width="0.18" >TRSP</text>
<line x1="178" y1="777.5" x2="199.3" y2="777.5" stroke="#111" stroke-width="1.2"/>
<path d="M206.3,777.5 L196.8,773.7 L198.8,777.5 L196.8,781.3 Z" fill="#111"/>
<text x="207.5" y="780.8" font-size="9.3" text-anchor="start" font-weight="normal" fill="#222" stroke="#222" stroke-width="0.18" >TRSPt</text>
<text x="264" y="788.3" font-size="7.65" text-anchor="start" font-weight="normal" fill="#222" stroke="#222" stroke-width="0.18" >Key:</text>
<text x="264" y="797" font-size="7.65" text-anchor="start" font-weight="normal" fill="#222" stroke="#222" stroke-width="0.18" >T=TET2 V1718L</text>
<text x="264" y="806.1" font-size="7.65" text-anchor="start" font-weight="normal" fill="#222" stroke="#222" stroke-width="0.18" >R=RUNX1 D198G</text>
<text x="264" y="814.8" font-size="7.65" text-anchor="start" font-weight="normal" fill="#222" stroke="#222" stroke-width="0.18" >S=SRSF2 P95A</text>
<text x="264" y="824.3" font-size="7.65" text-anchor="start" font-weight="normal" fill="#222" stroke="#222" stroke-width="0.18" >r=RUNX1 L175P</text>
<text x="264" y="833.8" font-size="7.65" text-anchor="start" font-weight="normal" fill="#222" stroke="#222" stroke-width="0.18" >P=PHF6 C85X</text>
<text x="264" y="843" font-size="7.65" text-anchor="start" font-weight="normal" fill="#222" stroke="#222" stroke-width="0.18" >t=TET2 Q1084P</text>
<text x="127.1" y="808.4" font-size="9.7" text-anchor="middle" font-weight="normal" fill="#222" stroke="#222" stroke-width="0.18" >OR</text>
<rect x="19.5" y="817.3" width="104.2" height="87.7" rx="11" ry="11" fill="#c7c8db"/>
<rect x="132" y="817.3" width="56" height="87.7" rx="11" ry="11" fill="#dde8d2"/>
<rect x="193.5" y="817.3" width="47.1" height="87.7" rx="11" ry="11" fill="#e5c7bc"/>
<text x="71.3" y="830.2" font-size="9.5" text-anchor="middle" font-weight="bold" fill="#111" stroke="#111" stroke-width="0.3" >Dx</text>
<text x="160" y="830.2" font-size="9.5" text-anchor="middle" font-weight="bold" fill="#111" stroke="#111" stroke-width="0.3" >pre-allo</text>
<text x="217" y="830.2" font-size="9.5" text-anchor="middle" font-weight="bold" fill="#111" stroke="#111" stroke-width="0.3" >Rel</text>
<line x1="39.5" y1="852.5" x2="39.5" y2="864" stroke="#111" stroke-width="1.2"/>
<line x1="38.9" y1="852.5" x2="77.4" y2="852.5" stroke="#111" stroke-width="1.2"/>
<path d="M84.4,852.5 L74.9,848.7 L76.9,852.5 L74.9,856.3 Z" fill="#111"/>
<text x="90.4" y="856" font-size="9.3" text-anchor="start" font-weight="normal" fill="#222" stroke="#222" stroke-width="0.18" >TRSr</text>
<text x="30" y="874" font-size="9.3" text-anchor="start" font-weight="normal" fill="#222" stroke="#222" stroke-width="0.18" >TRS</text>
<line x1="116.5" y1="852.5" x2="136.3" y2="852.5" stroke="#111" stroke-width="1.2"/>
<path d="M143.3,852.5 L133.8,848.7 L135.8,852.5 L133.8,856.3 Z" fill="#111"/>
<text x="149" y="856" font-size="9.3" text-anchor="start" font-weight="normal" fill="#222" stroke="#222" stroke-width="0.18" >TRSr</text>
<path d="M155.3,846.7 L163.7,858.3 M163.7,846.7 L155.3,858.3" stroke="#a81c2e" stroke-width="1.4" fill="none"/>
<line x1="52.5" y1="871.2" x2="196" y2="871.2" stroke="#111" stroke-width="1.2"/>
<path d="M203,871.2 L193.5,867.4 L195.5,871.2 L193.5,875 Z" fill="#111"/>
<text x="207.5" y="874.5" font-size="9.3" text-anchor="start" font-weight="normal" fill="#222" stroke="#222" stroke-width="0.18" >TRS</text>
<text x="159.8" y="898.8" font-size="9.3" text-anchor="middle" font-weight="normal" fill="#222" stroke="#222" stroke-width="0.18" >P</text>
<line x1="174.6" y1="895.6" x2="196.7" y2="895.6" stroke="#111" stroke-width="1.2"/>
<path d="M203.7,895.6 L194.2,891.8 L196.2,895.6 L194.2,899.4 Z" fill="#111"/>
<text x="212.3" y="898.8" font-size="9.3" text-anchor="start" font-weight="normal" fill="#222" stroke="#222" stroke-width="0.18" >Pt</text>
<text x="20.5" y="928.8" font-size="9.5" text-anchor="start" font-weight="bold" fill="#111" stroke="#111" stroke-width="0.3" >#92</text>
<rect x="19.5" y="933" width="104.2" height="94.4" rx="11" ry="11" fill="#c7c8db"/>
<rect x="132" y="933" width="61.5" height="94.4" rx="11" ry="11" fill="#dde8d2"/>
<rect x="201.4" y="933" width="55.4" height="94.4" rx="11" ry="11" fill="#e5c7bc"/>
<text x="71.3" y="944.5" font-size="9.5" text-anchor="middle" font-weight="bold" fill="#111" stroke="#111" stroke-width="0.3" >Dx</text>
<text x="163.3" y="944.7" font-size="9.5" text-anchor="middle" font-weight="bold" fill="#111" stroke="#111" stroke-width="0.3" >CR</text>
<text x="229.6" y="944.7" font-size="9.5" text-anchor="middle" font-weight="bold" fill="#111" stroke="#111" stroke-width="0.3" >Rel</text>
<line x1="37.5" y1="969.5" x2="37.5" y2="983" stroke="#111" stroke-width="1.2"/>
<line x1="37.5" y1="996.3" x2="37.5" y2="1011.5" stroke="#111" stroke-width="1.2"/>
<line x1="36.9" y1="969.5" x2="80.5" y2="969.5" stroke="#111" stroke-width="1.2"/>
<path d="M87.5,969.5 L78,965.7 L80,969.5 L78,973.3 Z" fill="#111"/>
<text x="90.5" y="972.8" font-size="9.3" text-anchor="start" font-weight="normal" fill="#222" stroke="#222" stroke-width="0.18" >CSTI</text>
<text x="28" y="993.3" font-size="9.3" text-anchor="start" font-weight="normal" fill="#222" stroke="#222" stroke-width="0.18" >CST</text>
<line x1="115.4" y1="969.5" x2="140.7" y2="969.5" stroke="#111" stroke-width="1.2"/>
<path d="M147.7,969.5 L138.2,965.7 L140.2,969.5 L138.2,973.3 Z" fill="#111"/>
<text x="152.5" y="972.8" font-size="9.3" text-anchor="start" font-weight="normal" fill="#222" stroke="#222" stroke-width="0.18" >CSTI</text>
<path d="M158.8,963.7 L167.2,975.3 M167.2,963.7 L158.8,975.3" stroke="#a81c2e" stroke-width="1.4" fill="none"/>
<line x1="36.9" y1="1011.8" x2="140.7" y2="1011.8" stroke="#111" stroke-width="1.2"/>
<path d="M147.7,1011.8 L138.2,1008 L140.2,1011.8 L138.2,1015.6 Z" fill="#111"/>
<text x="151" y="1015.1" font-size="9.3" text-anchor="start" font-weight="normal" fill="#222" stroke="#222" stroke-width="0.18" >CSTP</text>
<line x1="180.5" y1="1012" x2="203.2" y2="1012" stroke="#111" stroke-width="1.2"/>
<path d="M210.2,1012 L200.7,1008.2 L202.7,1012 L200.7,1015.8 Z" fill="#111"/>
<text x="213.7" y="1015.3" font-size="9.3" text-anchor="start" font-weight="normal" fill="#222" stroke="#222" stroke-width="0.18" >CSTPp</text>
<text x="264" y="952.8" font-size="7.65" text-anchor="start" font-weight="normal" fill="#222" stroke="#222" stroke-width="0.18" >Key:</text>
<text x="264" y="962.4" font-size="7.65" text-anchor="start" font-weight="normal" fill="#222" stroke="#222" stroke-width="0.18" >C=CSF1R G747R</text>
<text x="264" y="971.1" font-size="7.65" text-anchor="start" font-weight="normal" fill="#222" stroke="#222" stroke-width="0.18" >S=SRSF2 P95L</text>
<text x="264" y="979.9" font-size="7.65" text-anchor="start" font-weight="normal" fill="#222" stroke="#222" stroke-width="0.18" >T=TET2 H949R</text>
<text x="264" y="988.6" font-size="7.65" text-anchor="start" font-weight="normal" fill="#222" stroke="#222" stroke-width="0.18" >I=IDH1 R132C</text>
<text x="264" y="998" font-size="7.65" text-anchor="start" font-weight="normal" fill="#222" stroke="#222" stroke-width="0.18" >P=TP53 R136H</text>
<text x="264" y="1007.4" font-size="7.65" text-anchor="start" font-weight="normal" fill="#222" stroke="#222" stroke-width="0.18" >p=TP53 P48fs</text>
<rect x="0" y="0" width="520" height="1.3" fill="#000"/>
<rect x="0" y="0" width="1.4" height="1035" fill="#000"/>
<rect x="518.5" y="0" width="1.5" height="1035" fill="#000"/>
<rect x="0" y="1033.4" width="520" height="1.6" fill="#000"/>
</svg></body></html>
